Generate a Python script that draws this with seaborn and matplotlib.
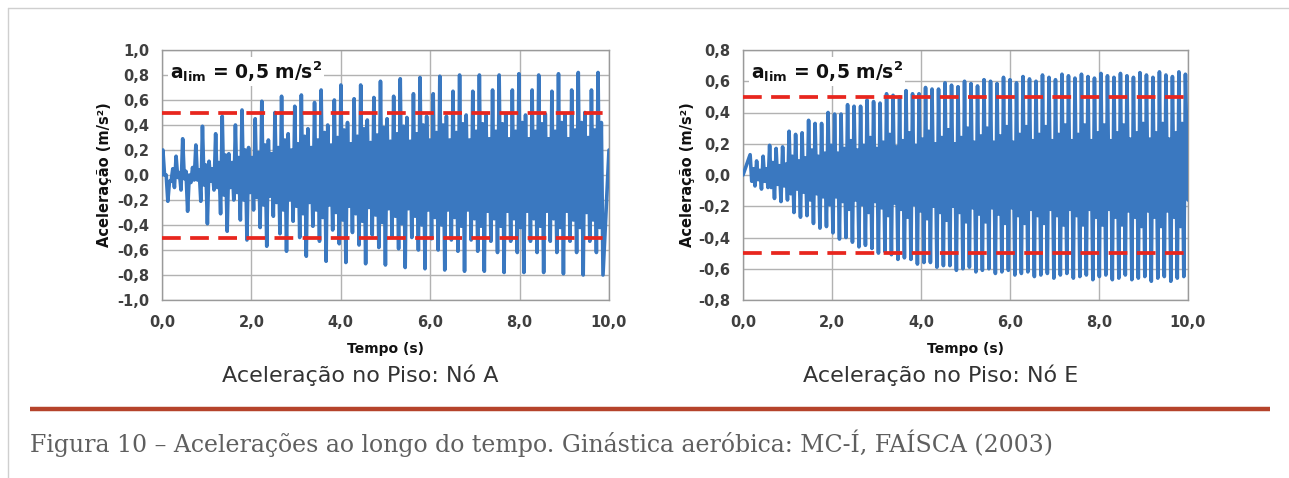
import numpy as np
import pandas as pd
import matplotlib
matplotlib.use("Agg")
import matplotlib.pyplot as plt
from matplotlib.lines import Line2D
from matplotlib.ticker import FuncFormatter
import seaborn as sns

# ---------------------------------------------------------------------------
# Floor acceleration records (m/s^2). For every response cycle: the positive
# peak, the level of the fast inner swing, and the negative peak that closes
# the cycle.
# ---------------------------------------------------------------------------
node_a_peaks = [
    0.20, -0.05, 0.15,  0.29, 0.00, 0.24,  0.39, 0.11, 0.33,
    0.47, 0.17, 0.40,  0.52, 0.22, 0.45,  0.59, 0.28, 0.50,
    0.63, 0.33, 0.55,  0.64, 0.37, 0.58,  0.68, 0.40, 0.60,
    0.72, 0.42, 0.61,  0.72, 0.44, 0.62,  0.75, 0.45, 0.63,
    0.77, 0.46, 0.65,  0.78, 0.47, 0.65,  0.79, 0.47, 0.67,
    0.80, 0.48, 0.67,  0.80, 0.48, 0.68,  0.80, 0.49, 0.68,
    0.81, 0.48, 0.68,  0.80, 0.49, 0.67,  0.81, 0.49, 0.68,
    0.82, 0.50, 0.68,  0.82,
]
node_a_inner = [
    0.00, 0.05, 0.02,  0.03, 0.06, 0.04,  0.08, 0.05, 0.10,
    0.16, 0.10, 0.14,  0.20, 0.14, 0.18,  0.24, 0.17, 0.22,
    0.28, 0.20, 0.25,  0.31, 0.22, 0.28,  0.34, 0.24, 0.30,
    0.36, 0.25, 0.31,  0.37, 0.26, 0.32,  0.38, 0.27, 0.33,
    0.39, 0.27, 0.33,  0.40, 0.28, 0.34,  0.40, 0.28, 0.34,
    0.41, 0.28, 0.35,  0.41, 0.29, 0.35,  0.41, 0.29, 0.35,
    0.42, 0.29, 0.35,  0.41, 0.29, 0.35,  0.42, 0.29, 0.36,
    0.42, 0.30, 0.36,  0.42,
]
node_a_troughs = [
    -0.21, -0.10, -0.12,  -0.29, -0.04, -0.21,  -0.39, -0.12, -0.31,
    -0.45, -0.20, -0.36,  -0.52, -0.28, -0.42,  -0.57, -0.33, -0.47,
    -0.61, -0.37, -0.50,  -0.65, -0.41, -0.53,  -0.69, -0.44, -0.55,
    -0.70, -0.46, -0.56,  -0.71, -0.48, -0.58,  -0.72, -0.49, -0.59,
    -0.74, -0.50, -0.60,  -0.75, -0.51, -0.60,  -0.76, -0.52, -0.61,
    -0.77, -0.52, -0.61,  -0.77, -0.53, -0.62,  -0.78, -0.53, -0.62,
    -0.78, -0.53, -0.62,  -0.78, -0.53, -0.62,  -0.79, -0.53, -0.62,
    -0.80, -0.53, -0.62,  -0.80,
]
node_a_start, node_a_end = 0.0, 0.20

node_e_peaks = [
    0.13, 0.09, 0.12,  0.19, 0.17, 0.18,  0.28, 0.26, 0.27,
    0.35, 0.33, 0.33,  0.40, 0.39, 0.39,  0.45, 0.44, 0.44,
    0.48, 0.47, 0.46,  0.52, 0.51, 0.50,  0.54, 0.52, 0.52,
    0.56, 0.55, 0.55,  0.59, 0.575, 0.565,  0.60, 0.585, 0.57,
    0.61, 0.60, 0.585,  0.625, 0.61, 0.59,  0.63, 0.615, 0.60,
    0.64, 0.625, 0.61,  0.645, 0.635, 0.62,  0.645, 0.63, 0.62,
    0.65, 0.635, 0.625,  0.65, 0.635, 0.625,  0.655, 0.64, 0.625,
    0.66, 0.64, 0.63,  0.66, 0.645,
]
node_e_inner = [
    0.04, 0.03, 0.04,  0.08, 0.06, 0.07,  0.12, 0.09, 0.11,
    0.16, 0.12, 0.14,  0.19, 0.14, 0.17,  0.22, 0.16, 0.19,
    0.24, 0.17, 0.21,  0.26, 0.18, 0.22,  0.27, 0.19, 0.23,
    0.28, 0.20, 0.24,  0.29, 0.20, 0.24,  0.30, 0.21, 0.25,
    0.30, 0.21, 0.25,  0.31, 0.21, 0.26,  0.31, 0.22, 0.26,
    0.31, 0.22, 0.26,  0.32, 0.22, 0.26,  0.32, 0.22, 0.27,
    0.32, 0.22, 0.27,  0.32, 0.23, 0.27,  0.33, 0.23, 0.27,
    0.33, 0.23, 0.27,  0.33,
]
node_e_troughs = [
    -0.07, -0.09, -0.08,  -0.15, -0.17, -0.16,  -0.24, -0.27, -0.26,
    -0.31, -0.34, -0.33,  -0.37, -0.41, -0.40,  -0.43, -0.46, -0.45,
    -0.47, -0.50, -0.49,  -0.51, -0.54, -0.53,  -0.54, -0.57, -0.56,
    -0.56, -0.59, -0.58,  -0.58, -0.61, -0.60,  -0.59, -0.62, -0.61,
    -0.60, -0.63, -0.62,  -0.61, -0.64, -0.63,  -0.62, -0.65, -0.64,
    -0.63, -0.66, -0.64,  -0.63, -0.66, -0.65,  -0.64, -0.67, -0.65,
    -0.64, -0.67, -0.66,  -0.64, -0.67, -0.66,  -0.65, -0.68, -0.66,
    -0.65, -0.68, -0.66,  -0.65,
]
node_e_start, node_e_end = 0.0, -0.16

# timing of the extrema (s): first peak and quarter-period of the response
node_a_first, node_a_quarter = 0.02, 0.036875
node_e_first, node_e_quarter = 0.16, 0.0365
duration = 10.0

a_lim = 0.5
x_ticks = [0, 2, 4, 6, 8, 10]
y_ticks_a = [-1.0, -0.8, -0.6, -0.4, -0.2, 0.0, 0.2, 0.4, 0.6, 0.8, 1.0]
y_ticks_e = [-0.8, -0.6, -0.4, -0.2, 0.0, 0.2, 0.4, 0.6, 0.8]

panel_titles = ["Aceleração no Piso: Nó A", "Aceleração no Piso: Nó E"]
x_label = "Tempo (s)"
y_label = "Aceleração (m/s²)"
caption = "Figura 10 – Acelerações ao longo do tempo. Ginástica aeróbica: MC-Í, FAÍSCA (2003)"


def build_series(peaks, inner, troughs, start, end, first, quarter):
    values = []
    for i, p in enumerate(peaks):
        values.append(p)
        if i < len(troughs):
            values += [-inner[i], inner[i], troughs[i]]
    t = first + quarter * np.arange(len(values))
    t = np.concatenate([[0.0], t, [duration]])
    v = np.concatenate([[start], values, [end]])
    return pd.DataFrame({"t": t, "a": v})


df_a = build_series(node_a_peaks, node_a_inner, node_a_troughs,
                    node_a_start, node_a_end, node_a_first, node_a_quarter)
df_e = build_series(node_e_peaks, node_e_inner, node_e_troughs,
                    node_e_start, node_e_end, node_e_first, node_e_quarter)

sns.set_style("white")
plt.rcParams["font.family"] = ["DejaVu Sans"]
plt.rcParams["mathtext.fontset"] = "custom"
plt.rcParams["mathtext.rm"] = "DejaVu Sans:bold"
plt.rcParams["mathtext.bf"] = "DejaVu Sans:bold"
plt.rcParams["mathtext.it"] = "DejaVu Sans:bold"

LINE = "#3a78c0"
DASH = "#e8261e"
GRID = "#b2b2b2"
TXT = "#3f3f3f"

fig = plt.figure(figsize=(12.89, 4.78), dpi=100)
fig.patch.set_facecolor("white")

W, H = 1289, 478
ax_a = fig.add_axes([162 / W, (H - 300) / H, 447 / W, 250 / H])
ax_e = fig.add_axes([743 / W, (H - 300) / H, 445 / W, 250 / H])


def comma(v, _pos):
    if abs(v) < 1e-9:
        v = 0.0
    return f"{v:.1f}".replace(".", ",")


for ax, df, yt, title, ylab_x in [
    (ax_a, df_a, y_ticks_a, panel_titles[0], -0.112),
    (ax_e, df_e, y_ticks_e, panel_titles[1], -0.108),
]:
    sns.lineplot(data=df, x="t", y="a", ax=ax, color=LINE, linewidth=2.6,
                 sort=False, estimator=None, zorder=3)
    for s in (a_lim, -a_lim):
        ax.axhline(s, color=DASH, linewidth=2.7, dashes=(5.0, 2.5), zorder=4)

    ax.set_xlim(0, duration)
    ax.set_ylim(yt[0], yt[-1])
    ax.set_xticks(x_ticks)
    ax.set_yticks(yt)
    ax.xaxis.set_major_formatter(FuncFormatter(comma))
    ax.yaxis.set_major_formatter(FuncFormatter(comma))
    ax.grid(True, color=GRID, linewidth=1.0, zorder=0)
    ax.set_axisbelow(True)
    for side, sp in ax.spines.items():
        sp.set_color("#9a9a9a")
        sp.set_linewidth(1.0)
    ax.tick_params(axis="y", which="major", direction="out", length=6,
                   width=1.0, color="#9a9a9a", labelsize=10.5,
                   labelcolor=TXT, pad=3)
    ax.tick_params(axis="x", which="major", direction="out", length=5,
                   width=1.0, color="#9a9a9a", labelsize=10.5,
                   labelcolor=TXT, pad=6)
    for lab in ax.get_xticklabels() + ax.get_yticklabels():
        lab.set_fontweight("bold")

    ax.set_xlabel(x_label, fontsize=10, fontweight="bold", color="#111111")
    ax.xaxis.set_label_coords(0.5, -0.168)
    ax.set_ylabel(y_label, fontsize=10.5, fontweight="bold", color="#111111")
    ax.yaxis.set_label_coords(ylab_x, 0.5)

    ax.text(0.018, 0.915, r"$\mathregular{a_{lim}}$ = 0,5 m/s$^{\mathregular{2}}$",
            transform=ax.transAxes, fontsize=13.5, fontweight="bold",
            color="#111111", va="center", ha="left", zorder=6,
            bbox=dict(facecolor="white", edgecolor="none", pad=1.5))

    cx = ax.get_position().x0 + ax.get_position().width / 2 - 25 / W
    fig.text(cx, (H - 375) / H, title, ha="center", va="center",
             fontsize=16, color="#333333")

# page frame, rule and caption
fig.add_artist(Line2D([8 / W, 1.0], [1 - 8 / H, 1 - 8 / H],
                      transform=fig.transFigure, color="#cfcfcf", linewidth=1.0))
fig.add_artist(Line2D([8 / W, 8 / W], [0.0, 1 - 8 / H],
                      transform=fig.transFigure, color="#cfcfcf", linewidth=1.0))
fig.add_artist(Line2D([30 / W, 1270 / W], [1 - 409 / H, 1 - 409 / H],
                      transform=fig.transFigure, color="#b5432b", linewidth=3.2,
                      solid_capstyle="butt"))
fig.text(30 / W, 1 - 443 / H, caption, ha="left", va="center",
         fontsize=17, color="#5f5f5f", family=["DejaVu Serif"])

fig.savefig("out.png", dpi=100, facecolor="white")
